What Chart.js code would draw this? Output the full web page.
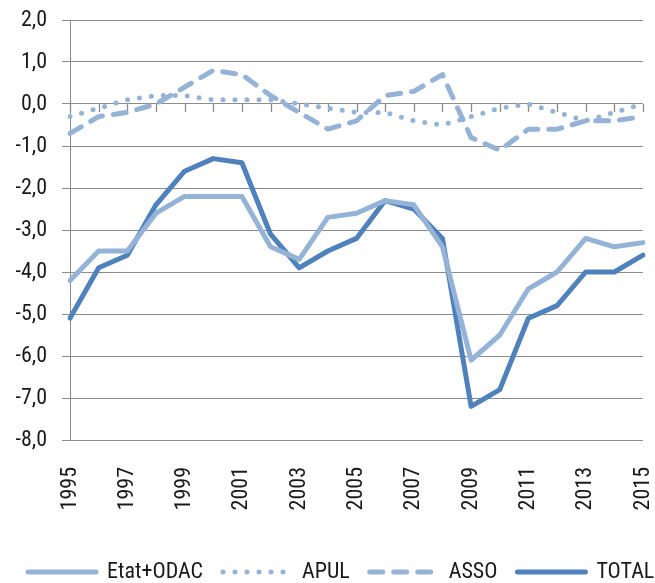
<!DOCTYPE html>
<html>
<head>
<meta charset="utf-8">
<script src="https://cdn.jsdelivr.net/npm/chart.js@4"></script>
<style>
html,body{margin:0;padding:0;background:#fff;}
#wrap{width:655px;height:583px;position:relative;}
</style>
</head>
<body>
<div id="wrap"><canvas id="c"></canvas></div>
<script>
const years = ['1995','1996','1997','1998','1999','2000','2001','2002','2003','2004','2005','2006','2007','2008','2009','2010','2011','2012','2013','2014','2015'];
const etatOdac = [-4.2,-3.5,-3.5,-2.6,-2.2,-2.2,-2.2,-3.4,-3.7,-2.7,-2.6,-2.3,-2.4,-3.4,-6.1,-5.5,-4.4,-4.0,-3.2,-3.4,-3.3];
const apul = [-0.3,-0.1,0.1,0.2,0.2,0.1,0.1,0.1,0.0,-0.1,-0.2,-0.2,-0.4,-0.5,-0.3,-0.1,0.0,-0.2,-0.4,-0.2,0.0];
const asso = [-0.7,-0.3,-0.2,0.0,0.4,0.8,0.7,0.2,-0.2,-0.6,-0.4,0.2,0.3,0.7,-0.8,-1.1,-0.6,-0.6,-0.4,-0.4,-0.3];
const total = [-5.1,-3.9,-3.6,-2.4,-1.6,-1.3,-1.4,-3.1,-3.9,-3.5,-3.2,-2.3,-2.5,-3.2,-7.2,-6.8,-5.1,-4.8,-4.0,-4.0,-3.6];
const yTicks = {min:-8, max:2, step:1};

const LIGHT = '#95B3D7';
const DARK = '#4F81BD';
const GRID = '#8c8c8c';
const TEXT = '#1a1a1a';
const FONT = "'Roboto Condensed', 'Liberation Sans', sans-serif";

const zeroTicks = {
  id:'zeroTicks',
  beforeDatasetsDraw(chart){
    const xs = chart.scales.x, ys = chart.scales.y, ctx = chart.ctx;
    const y0 = ys.getPixelForValue(0);
    ctx.save();
    ctx.strokeStyle = GRID; ctx.lineWidth = 1.3;
    ctx.beginPath();
    for (let i = 0; i < years.length; i++){
      const x = Math.round(xs.getPixelForValue(i)) + 0.5;
      ctx.moveTo(x, y0); ctx.lineTo(x, y0 + 8);
    }
    ctx.stroke();
    ctx.restore();
  }
};

// keep the four legend items on one row (as in the reference)
const legendOneRow = {
  id:'legendOneRow',
  beforeLayout(chart){
    const lg = chart.legend;
    if (lg && !lg.__oneRow){
      const origFit = lg._fitRows;
      lg._fitRows = function(){
        const mw = this.maxWidth;
        this.maxWidth = mw + 200;
        const r = origFit.apply(this, arguments);
        this.maxWidth = mw;
        return r;
      };
      const origDraw = lg.draw;
      lg.draw = function(){
        const rt = this.right;
        this.right = rt + 200;
        const r = origDraw.apply(this, arguments);
        this.right = rt;
        return r;
      };
      lg.__oneRow = true;
    }
  }
};

const common = {pointRadius:0, pointHoverRadius:0, tension:0, borderWidth:5, borderCapStyle:'round', borderJoinStyle:'round', fill:false};

new Chart(document.getElementById('c'), {
  type:'line',
  data:{
    labels:years,
    datasets:[
      Object.assign({label:'Etat+ODAC', data:etatOdac, borderColor:LIGHT, backgroundColor:LIGHT}, common, {borderDash:[]}),
      Object.assign({label:'APUL', data:apul, borderColor:LIGHT, backgroundColor:LIGHT}, common, {borderDash:[0,12]}),
      Object.assign({label:'ASSO', data:asso, borderColor:LIGHT, backgroundColor:LIGHT}, common, {borderDash:[13,11]}),
      Object.assign({label:'TOTAL', data:total, borderColor:DARK, backgroundColor:DARK}, common, {borderDash:[]})
    ]
  },
  options:{
    responsive:true, maintainAspectRatio:false, animation:false,
    layout:{padding:{left:8, right:12, top:20, bottom:-10}},
    plugins:{
      tooltip:{enabled:false},
      legend:{
        position:'bottom', align:'start',
        labels:{
          usePointStyle:true, pointStyle:'line', pointStyleWidth:68, boxWidth:68,
          padding:20, color:TEXT, font:{family:FONT, size:22},
          generateLabels:function(chart){
            return chart.data.datasets.map(function(ds, i){
              return {
                text: ds.label, datasetIndex:i, hidden:false,
                fillStyle: ds.borderColor, strokeStyle: ds.borderColor, fontColor: TEXT,
                lineWidth: 5, lineCap:'round', lineJoin:'round',
                lineDash: ds.borderDash || [], lineDashOffset:0,
                pointStyle:'line', rotation:0
              };
            });
          }
        }
      }
    },
    scales:{
      x:{
        grid:{display:false}, border:{display:false},
        ticks:{
          autoSkip:false, maxRotation:90, minRotation:90, padding:19,
          color:TEXT, font:{family:FONT, size:22},
          callback:function(v, i){ return i % 2 === 0 ? years[i] : ''; }
        },
        afterFit:function(s){ s.height = 101; s.paddingLeft = 0; s.paddingRight = 0; }
      },
      y:{
        min:yTicks.min, max:yTicks.max,
        grid:{color:GRID, lineWidth:1, drawTicks:true, tickLength:8},
        border:{display:true, color:GRID, width:1},
        ticks:{
          stepSize:yTicks.step, padding:15, color:TEXT, font:{family:FONT, size:22},
          callback:function(v){ return v.toFixed(1).replace('.', ','); }
        },
        afterFit:function(s){ s.width = 62; s.paddingTop = 0; s.paddingBottom = 0; }
      }
    }
  },
  plugins:[zeroTicks, legendOneRow]
});
</script>
</body>
</html>
